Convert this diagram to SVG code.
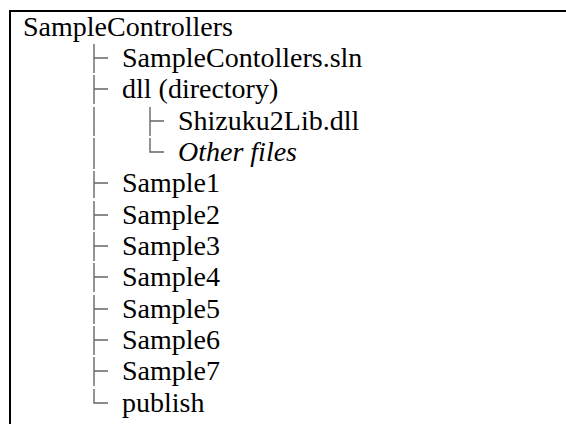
<svg xmlns="http://www.w3.org/2000/svg" width="566" height="424" viewBox="0 0 566 424">
<style>
.t{font-size:28px;fill:#000}
.it{font-style:italic}
.frame{stroke:#000;stroke-width:2;fill:none}
.tree{stroke:#666;stroke-width:1.4;fill:none}
</style>
<rect width="566" height="424" fill="#fff"/>
<path class="frame" d="M10 424V11H566"/>
<g id="connectors">
<path class="tree" d="M94 44V73M94 58H108"/>
<path class="tree" d="M94 75V104M94 89H108"/>
<path class="tree" d="M94 107V136M150 107V136M150 121H164"/>
<path class="tree" d="M94 138V169M150 138V152H164"/>
<path class="tree" d="M94 171V198M94 183H108"/>
<path class="tree" d="M94 201V230M94 215H108"/>
<path class="tree" d="M94 232V261M94 246H108"/>
<path class="tree" d="M94 263V292M94 277H108"/>
<path class="tree" d="M94 295V324M94 309H108"/>
<path class="tree" d="M94 326V355M94 340H108"/>
<path class="tree" d="M94 357V386M94 371H108"/>
<path class="tree" d="M94 389V403H108"/>
</g>
<g id="nodes" font-family="Liberation Serif, serif">
<g id="root"><text class="t" x="23" y="36">SampleControllers</text></g>
<g id="sln"><text class="t" x="122" y="67">SampleContollers.sln</text></g>
<g id="dll"><text class="t" x="122" y="98">dll (directory)</text></g>
<g id="shizuku"><text class="t" x="178" y="130">Shizuku2Lib.dll</text></g>
<g id="other"><text class="t it" x="178" y="161">Other files</text></g>
<g id="sample1"><text class="t" x="122" y="192">Sample1</text></g>
<g id="sample2"><text class="t" x="122" y="224">Sample2</text></g>
<g id="sample3"><text class="t" x="122" y="255">Sample3</text></g>
<g id="sample4"><text class="t" x="122" y="286">Sample4</text></g>
<g id="sample5"><text class="t" x="122" y="318">Sample5</text></g>
<g id="sample6"><text class="t" x="122" y="349">Sample6</text></g>
<g id="sample7"><text class="t" x="122" y="380">Sample7</text></g>
<g id="publish"><text class="t" x="122" y="412">publish</text></g>
</g>
</svg>
